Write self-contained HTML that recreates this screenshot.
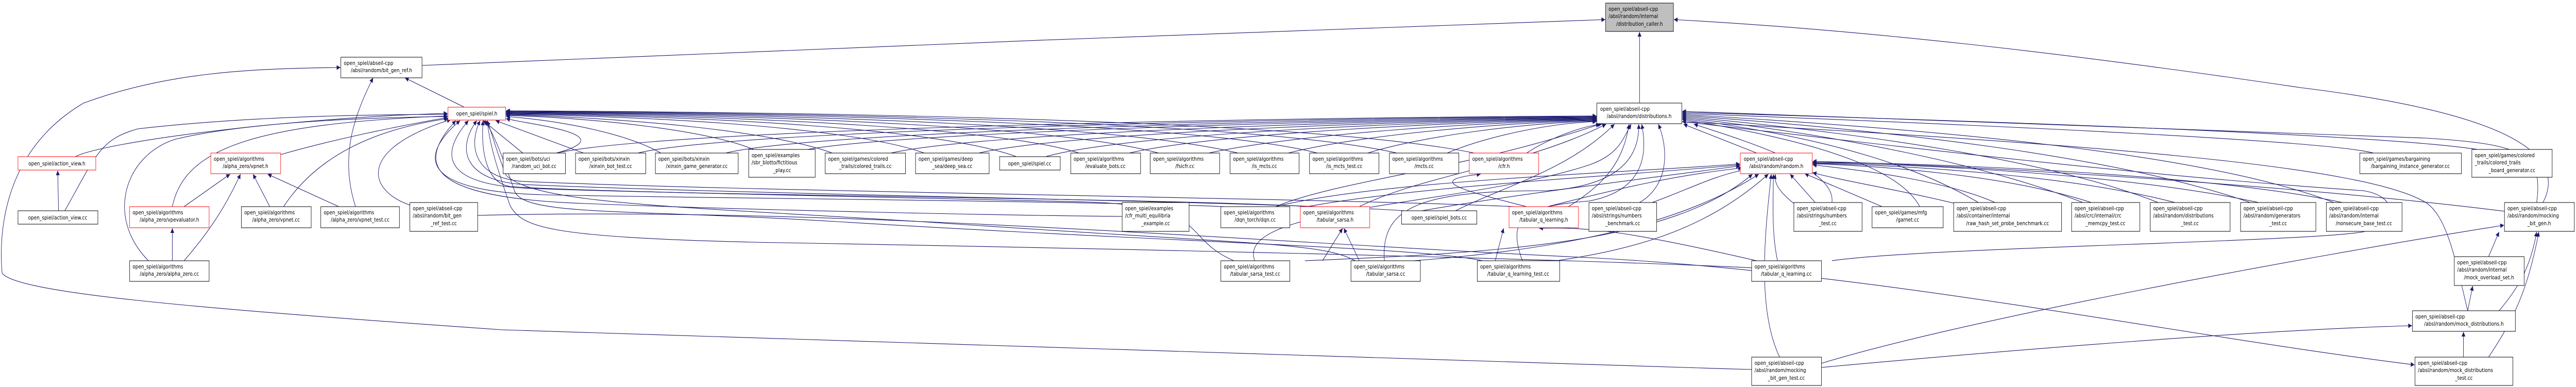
<!DOCTYPE html>
<html><head><meta charset="utf-8"><style>
html,body{margin:0;padding:0;background:#fff;width:100vw;height:100vh;overflow:hidden;}
svg{display:block;width:100vw;height:100vh;}
text{font-family:"DejaVu Sans","Liberation Sans",sans-serif;font-size:11px;fill:#000;}
.e{fill:none;stroke:#191970;stroke-width:1.1;}
.n{fill:#fff;stroke:#000;stroke-width:1;}
.r{fill:#fff;stroke:#ff0000;stroke-width:1;}
</style></head><body>
<svg viewBox="0 0 6159 751" preserveAspectRatio="none" xmlns="http://www.w3.org/2000/svg">
<defs><marker id="a" viewBox="0 0 10 10" refX="10" refY="5" markerWidth="11" markerHeight="9" markerUnits="userSpaceOnUse" orient="auto"><path d="M0,0L10,5L0,10z" fill="#191970"/></marker></defs>
<g marker-end="url(#a)">
<path class="e" d="M3920,200 L3920,62"/>
<path class="e" d="M1009,127 C1800,100 3000,60 3838,38"/>
<path class="e" d="M6080,393 C6140,300 6000,220 5500,170 C5000,110 4500,60 4002,38"/>
<path class="e" d="M1110,208 L968,151"/>
<path class="e" d="M850,401 C810,300 850,220 892,151"/>
<path class="e" d="M4188,717 C3000,690 1800,660 1200,640 C500,600 40,570 5,530 C0,480 -10,300 200,200 C400,140 600,133 814,131"/>
<path class="e" d="M180,304 C250,275 700,228 1070,220"/>
<path class="e" d="M155,409 C230,300 240,270 330,250 C600,225 900,222 1070,222"/>
<path class="e" d="M671,300 C800,270 950,245 1070,228"/>
<path class="e" d="M412,401 C440,290 600,240 1070,225"/>
<path class="e" d="M355,506 C250,420 300,300 420,270 C600,235 900,228 1070,226"/>
<path class="e" d="M678,401 C760,300 900,250 1072,230"/>
<path class="e" d="M980,398 C880,370 850,290 1078,232"/>
<path class="e" d="M1250,297 L1155,234"/>
<path class="e" d="M1395,297 L1185,234"/>
<path class="e" d="M1580,297 C1500,260 1350,235 1210,226"/>
<path class="e" d="M1805,291 C1700,255 1450,230 1210,224"/>
<path class="e" d="M1990,297 C1850,255 1500,228 1210,223"/>
<path class="e" d="M2210,297 C2050,250 1600,226 1210,222"/>
<path class="e" d="M2430,304 C2250,250 1700,225 1210,221"/>
<path class="e" d="M2580,297 C2400,250 1800,224 1210,220"/>
<path class="e" d="M2770,297 C2550,248 1900,223 1210,219"/>
<path class="e" d="M2960,297 C2700,246 2000,222 1210,218"/>
<path class="e" d="M3150,297 C2900,245 2100,221 1210,217"/>
<path class="e" d="M3340,297 C3050,244 2200,220 1210,216"/>
<path class="e" d="M3525,297 C3200,243 2300,219 1210,215"/>
<path class="e" d="M1330,297 C1500,260 1250,240 1210,230"/>
<path class="e" d="M1330,297 C1600,250 3000,228 3817,225"/>
<path class="e" d="M1525,297 C1750,252 3100,229 3817,226"/>
<path class="e" d="M1735,297 C1950,254 3200,230 3817,227"/>
<path class="e" d="M1925,291 C2150,255 3300,231 3817,228"/>
<path class="e" d="M2130,297 C2350,256 3350,232 3817,229"/>
<path class="e" d="M2340,297 C2550,257 3400,233 3817,230"/>
<path class="e" d="M2500,304 C2700,258 3450,234 3817,231"/>
<path class="e" d="M2700,297 C2900,259 3500,235 3817,232"/>
<path class="e" d="M2890,297 C3100,260 3550,236 3817,233"/>
<path class="e" d="M3080,297 C3250,262 3600,237 3817,234"/>
<path class="e" d="M3270,297 C3400,264 3650,238 3817,235"/>
<path class="e" d="M3460,297 C3550,266 3700,239 3817,236"/>
<path class="e" d="M3650,297 C3700,270 3780,245 3830,241"/>
<path class="e" d="M2683,420 C2400,418 1800,408 1400,395 C1050,385 980,330 1090,234"/>
<path class="e" d="M2930,401 C2600,390 1700,385 1300,378 C1020,372 990,310 1100,234"/>
<path class="e" d="M3130,401 C2800,385 1700,380 1250,365 C1060,355 1050,300 1120,234"/>
<path class="e" d="M3360,409 C3000,390 1800,378 1250,358 C1110,350 1090,290 1140,234"/>
<path class="e" d="M3620,401 C3200,385 1800,372 1250,352 C1130,345 1120,280 1148,234"/>
<path class="e" d="M2950,506 C2820,460 2900,400 2600,392 C2000,380 1400,372 1220,362 C1160,355 1150,290 1155,234"/>
<path class="e" d="M3240,506 C3160,470 3000,475 2200,430 C1600,400 1280,395 1210,340 C1190,300 1180,270 1165,234"/>
<path class="e" d="M3545,506 C3400,480 2800,470 2000,430 C1500,405 1250,420 1230,370 C1200,300 1180,260 1160,234"/>
<path class="e" d="M4195,520 C3700,500 2500,480 1800,470 C1300,460 1250,440 1220,400 C1190,330 1170,280 1165,234"/>
<path class="e" d="M3050,401 C3200,350 3500,330 3825,241"/>
<path class="e" d="M3250,401 C3400,340 3650,320 3840,241"/>
<path class="e" d="M3480,409 C3600,360 3750,330 3860,241"/>
<path class="e" d="M3750,401 C3830,360 3880,320 3895,241"/>
<path class="e" d="M3000,506 C2950,400 3500,400 3800,320 C3870,300 3880,270 3900,241"/>
<path class="e" d="M3310,506 C3300,400 3400,370 3700,370 C3880,360 3920,300 3918,241"/>
<path class="e" d="M3640,506 C3600,420 3650,400 3800,390 C3930,370 3940,300 3925,241"/>
<path class="e" d="M3920,393 C3990,360 3990,290 3965,241"/>
<path class="e" d="M4380,393 C4390,330 4200,280 4050,241"/>
<path class="e" d="M4200,297 L4025,241"/>
<path class="e" d="M4380,506 C4600,480 5500,470 5650,450 C5740,430 5730,380 5650,370 C5100,340 4500,280 4022,236"/>
<path class="e" d="M4590,401 C4550,340 4400,280 4022,232"/>
<path class="e" d="M4730,393 C4600,330 4400,270 4022,230"/>
<path class="e" d="M4980,393 C4750,320 4400,262 4022,228"/>
<path class="e" d="M5160,393 C4900,310 4450,258 4022,226"/>
<path class="e" d="M5380,393 C5050,300 4500,252 4022,224"/>
<path class="e" d="M5580,393 C5250,290 4550,248 4022,222"/>
<path class="e" d="M5675,297 C5550,270 4600,238 4022,220"/>
<path class="e" d="M5930,291 C5700,260 4700,234 4022,218"/>
<path class="e" d="M6065,393 C6080,300 6040,280 5800,268 C5200,245 4600,230 4022,216"/>
<path class="e" d="M5900,603 C5870,500 5850,420 5800,393 C5650,320 5000,280 4022,236"/>
<path class="e" d="M3125,401 C3400,360 3900,340 4160,320"/>
<path class="e" d="M3400,409 C3600,380 3900,350 4160,322"/>
<path class="e" d="M3050,401 C3300,350 3900,335 4160,318"/>
<path class="e" d="M3700,401 C3850,370 4000,340 4165,326"/>
<path class="e" d="M3950,393 C4030,370 4100,340 4170,330"/>
<path class="e" d="M3120,506 C3600,490 4000,470 4190,338"/>
<path class="e" d="M3380,506 C3800,480 4050,420 4205,338"/>
<path class="e" d="M3720,506 C3950,480 4100,430 4228,338"/>
<path class="e" d="M4255,693 C4200,600 4220,450 4235,338"/>
<path class="e" d="M4250,506 C4235,450 4240,390 4240,338"/>
<path class="e" d="M4330,420 C4260,380 4240,360 4245,338"/>
<path class="e" d="M4340,393 L4280,338"/>
<path class="e" d="M4500,401 L4315,337"/>
<path class="e" d="M4680,396 C4550,370 4400,350 4334,335"/>
<path class="e" d="M4770,393 C4650,350 4450,330 4334,320"/>
<path class="e" d="M5000,393 C4800,340 4500,322 4334,318"/>
<path class="e" d="M5200,393 C4950,340 4550,320 4334,317"/>
<path class="e" d="M5400,393 C5100,340 4600,318 4334,316"/>
<path class="e" d="M5600,393 C5300,340 4650,316 4334,315"/>
<path class="e" d="M5988,410 C5500,360 4700,320 4334,313"/>
<path class="e" d="M140,409 L138,331"/>
<path class="e" d="M412,506 L412,443"/>
<path class="e" d="M440,401 L550,338"/>
<path class="e" d="M440,506 C500,450 540,400 575,338"/>
<path class="e" d="M645,401 L605,338"/>
<path class="e" d="M810,401 L640,338"/>
<path class="e" d="M3162,506 L3210,443"/>
<path class="e" d="M3250,506 L3213,443"/>
<path class="e" d="M3575,506 L3595,443"/>
<path class="e" d="M4200,506 C3900,450 3800,440 3680,443"/>
<path class="e" d="M3650,401 C3500,370 3400,350 3540,338"/>
<path class="e" d="M5950,498 L5975,450"/>
<path class="e" d="M5900,603 L5912,555"/>
<path class="e" d="M5975,603 C6020,560 6050,520 6065,450"/>
<path class="e" d="M5890,693 L5890,644"/>
<path class="e" d="M5950,693 C6010,620 6045,560 6070,450"/>
<path class="e" d="M4355,705 C4700,620 5500,500 5987,437"/>
<path class="e" d="M4355,713 C4800,680 5400,640 5767,632"/>
<path class="e" d="M1142,418 C2000,400 3000,470 3800,500 C4500,530 5200,650 5773,708"/>
</g>
<g>
<rect class="n" x="3839" y="6" width="162" height="55" style="fill:#bfbfbf"/><text x="3846" y="21">open_spiel/abseil-cpp</text><text x="3846" y="35">/absl/random/internal</text><text x="3920" y="50" text-anchor="middle">/distribution_caller.h</text>
<rect class="n" x="815" y="111" width="194" height="40"/><text x="822" y="126">open_spiel/abseil-cpp</text><text x="912" y="140" text-anchor="middle">/absl/random/bit_gen_ref.h</text>
<rect class="n" x="3818" y="200" width="203" height="40"/><text x="3826" y="215">open_spiel/abseil-cpp</text><text x="3919" y="229" text-anchor="middle">/absl/random/distributions.h</text>
<rect class="r" x="1071" y="208" width="138" height="25"/><text x="1140" y="224" text-anchor="middle">open_spiel/spiel.h</text>
<rect class="r" x="43" y="304" width="186" height="26"/><text x="136" y="321" text-anchor="middle">open_spiel/action_view.h</text>
<rect class="r" x="504" y="297" width="167" height="40"/><text x="511" y="312">open_spiel/algorithms</text><text x="587" y="326" text-anchor="middle">/alpha_zero/vpnet.h</text>
<rect class="n" x="1203" y="297" width="149" height="40"/><text x="1210" y="312">open_spiel/bots/uci</text><text x="1277" y="326" text-anchor="middle">/random_uci_bot.cc</text>
<rect class="n" x="1376" y="297" width="168" height="40"/><text x="1383" y="312">open_spiel/bots/xinxin</text><text x="1460" y="326" text-anchor="middle">/xinxin_bot_test.cc</text>
<rect class="n" x="1567" y="297" width="198" height="40"/><text x="1574" y="312">open_spiel/bots/xinxin</text><text x="1666" y="326" text-anchor="middle">/xinxin_game_generator.cc</text>
<rect class="n" x="1790" y="290" width="159" height="54"/><text x="1797" y="305">open_spiel/examples</text><text x="1797" y="319">/sbr_blotto/fictitious</text><text x="1870" y="334" text-anchor="middle">_play.cc</text>
<rect class="n" x="1973" y="297" width="192" height="40"/><text x="1980" y="312">open_spiel/games/colored</text><text x="2069" y="326" text-anchor="middle">_trails/colored_trails.cc</text>
<rect class="n" x="2189" y="297" width="176" height="40"/><text x="2196" y="312">open_spiel/games/deep</text><text x="2277" y="326" text-anchor="middle">_sea/deep_sea.cc</text>
<rect class="n" x="2390" y="304" width="145" height="26"/><text x="2462" y="321" text-anchor="middle">open_spiel/spiel.cc</text>
<rect class="n" x="2560" y="297" width="167" height="40"/><text x="2567" y="312">open_spiel/algorithms</text><text x="2643" y="326" text-anchor="middle">/evaluate_bots.cc</text>
<rect class="n" x="2750" y="297" width="166" height="40"/><text x="2757" y="312">open_spiel/algorithms</text><text x="2833" y="326" text-anchor="middle">/fsicfr.cc</text>
<rect class="n" x="2941" y="297" width="165" height="40"/><text x="2948" y="312">open_spiel/algorithms</text><text x="3023" y="326" text-anchor="middle">/is_mcts.cc</text>
<rect class="n" x="3131" y="297" width="166" height="40"/><text x="3138" y="312">open_spiel/algorithms</text><text x="3214" y="326" text-anchor="middle">/is_mcts_test.cc</text>
<rect class="n" x="3322" y="297" width="166" height="40"/><text x="3329" y="312">open_spiel/algorithms</text><text x="3405" y="326" text-anchor="middle">/mcts.cc</text>
<rect class="r" x="3513" y="297" width="166" height="40"/><text x="3520" y="312">open_spiel/algorithms</text><text x="3596" y="326" text-anchor="middle">/cfr.h</text>
<rect class="r" x="4161" y="297" width="172" height="40"/><text x="4169" y="312">open_spiel/abseil-cpp</text><text x="4247" y="326" text-anchor="middle">/absl/random/random.h</text>
<rect class="n" x="5642" y="297" width="243" height="40"/><text x="5649" y="312">open_spiel/games/bargaining</text><text x="5763" y="326" text-anchor="middle">/bargaining_instance_generator.cc</text>
<rect class="n" x="5910" y="290" width="192" height="54"/><text x="5917" y="305">open_spiel/games/colored</text><text x="5917" y="319">_trails/colored_trails</text><text x="6006" y="334" text-anchor="middle">_board_generator.cc</text>
<rect class="n" x="43" y="409" width="191" height="26"/><text x="138" y="426" text-anchor="middle">open_spiel/action_view.cc</text>
<rect class="r" x="310" y="401" width="190" height="41"/><text x="317" y="416">open_spiel/algorithms</text><text x="405" y="430" text-anchor="middle">/alpha_zero/vpevaluator.h</text>
<rect class="n" x="577" y="401" width="167" height="41"/><text x="584" y="416">open_spiel/algorithms</text><text x="660" y="430" text-anchor="middle">/alpha_zero/vpnet.cc</text>
<rect class="n" x="767" y="401" width="188" height="41"/><text x="774" y="416">open_spiel/algorithms</text><text x="861" y="430" text-anchor="middle">/alpha_zero/vpnet_test.cc</text>
<rect class="n" x="980" y="393" width="162" height="56"/><text x="987" y="408">open_spiel/abseil-cpp</text><text x="987" y="422">/absl/random/bit_gen</text><text x="1061" y="437" text-anchor="middle">_ref_test.cc</text>
<rect class="n" x="2683" y="393" width="160" height="56"/><text x="2690" y="408">open_spiel/examples</text><text x="2690" y="422">/cfr_multi_equilibria</text><text x="2763" y="437" text-anchor="middle">_example.cc</text>
<rect class="n" x="2919" y="401" width="165" height="41"/><text x="2926" y="416">open_spiel/algorithms</text><text x="3001" y="430" text-anchor="middle">/dqn_torch/dqn.cc</text>
<rect class="r" x="3109" y="401" width="166" height="41"/><text x="3116" y="416">open_spiel/algorithms</text><text x="3192" y="430" text-anchor="middle">/tabular_sarsa.h</text>
<rect class="n" x="3351" y="409" width="180" height="26"/><text x="3441" y="426" text-anchor="middle">open_spiel/spiel_bots.cc</text>
<rect class="r" x="3608" y="401" width="166" height="41"/><text x="3615" y="416">open_spiel/algorithms</text><text x="3691" y="430" text-anchor="middle">/tabular_q_learning.h</text>
<rect class="n" x="3799" y="393" width="162" height="56"/><text x="3806" y="408">open_spiel/abseil-cpp</text><text x="3806" y="422">/absl/strings/numbers</text><text x="3880" y="437" text-anchor="middle">_benchmark.cc</text>
<rect class="n" x="4289" y="393" width="163" height="56"/><text x="4296" y="408">open_spiel/abseil-cpp</text><text x="4296" y="422">/absl/strings/numbers</text><text x="4370" y="437" text-anchor="middle">_test.cc</text>
<rect class="n" x="4476" y="401" width="170" height="41"/><text x="4483" y="416">open_spiel/games/mfg</text><text x="4561" y="430" text-anchor="middle">/garnet.cc</text>
<rect class="n" x="4671" y="393" width="258" height="56"/><text x="4678" y="408">open_spiel/abseil-cpp</text><text x="4678" y="422">/absl/container/internal</text><text x="4800" y="437" text-anchor="middle">/raw_hash_set_probe_benchmark.cc</text>
<rect class="n" x="4953" y="393" width="163" height="56"/><text x="4960" y="408">open_spiel/abseil-cpp</text><text x="4960" y="422">/absl/crc/internal/crc</text><text x="5034" y="437" text-anchor="middle">_memcpy_test.cc</text>
<rect class="n" x="5141" y="393" width="191" height="56"/><text x="5148" y="408">open_spiel/abseil-cpp</text><text x="5148" y="422">/absl/random/distributions</text><text x="5236" y="437" text-anchor="middle">_test.cc</text>
<rect class="n" x="5357" y="393" width="180" height="56"/><text x="5364" y="408">open_spiel/abseil-cpp</text><text x="5364" y="422">/absl/random/generators</text><text x="5447" y="437" text-anchor="middle">_test.cc</text>
<rect class="n" x="5562" y="393" width="181" height="56"/><text x="5569" y="408">open_spiel/abseil-cpp</text><text x="5569" y="422">/absl/random/internal</text><text x="5652" y="437" text-anchor="middle">/nonsecure_base_test.cc</text>
<rect class="n" x="5988" y="393" width="167" height="56"/><text x="5995" y="408">open_spiel/abseil-cpp</text><text x="5995" y="422">/absl/random/mocking</text><text x="6071" y="437" text-anchor="middle">_bit_gen.h</text>
<rect class="n" x="310" y="506" width="190" height="40"/><text x="317" y="521">open_spiel/algorithms</text><text x="405" y="535" text-anchor="middle">/alpha_zero/alpha_zero.cc</text>
<rect class="n" x="2919" y="506" width="165" height="40"/><text x="2926" y="521">open_spiel/algorithms</text><text x="3001" y="535" text-anchor="middle">/tabular_sarsa_test.cc</text>
<rect class="n" x="3230" y="506" width="166" height="40"/><text x="3237" y="521">open_spiel/algorithms</text><text x="3313" y="535" text-anchor="middle">/tabular_sarsa.cc</text>
<rect class="n" x="3532" y="506" width="197" height="40"/><text x="3539" y="521">open_spiel/algorithms</text><text x="3630" y="535" text-anchor="middle">/tabular_q_learning_test.cc</text>
<rect class="n" x="4188" y="506" width="167" height="40"/><text x="4195" y="521">open_spiel/algorithms</text><text x="4271" y="535" text-anchor="middle">/tabular_q_learning.cc</text>
<rect class="n" x="5868" y="498" width="167" height="56"/><text x="5875" y="513">open_spiel/abseil-cpp</text><text x="5875" y="527">/absl/random/internal</text><text x="5951" y="542" text-anchor="middle">/mock_overload_set.h</text>
<rect class="n" x="5768" y="603" width="246" height="40"/><text x="5775" y="618">open_spiel/abseil-cpp</text><text x="5891" y="632" text-anchor="middle">/absl/random/mock_distributions.h</text>
<rect class="n" x="4188" y="693" width="167" height="55"/><text x="4195" y="708">open_spiel/abseil-cpp</text><text x="4195" y="722">/absl/random/mocking</text><text x="4271" y="737" text-anchor="middle">_bit_gen_test.cc</text>
<rect class="n" x="5774" y="693" width="234" height="55"/><text x="5781" y="708">open_spiel/abseil-cpp</text><text x="5781" y="722">/absl/random/mock_distributions</text><text x="5891" y="737" text-anchor="middle">_test.cc</text>
</g>
</svg>
</body></html>
